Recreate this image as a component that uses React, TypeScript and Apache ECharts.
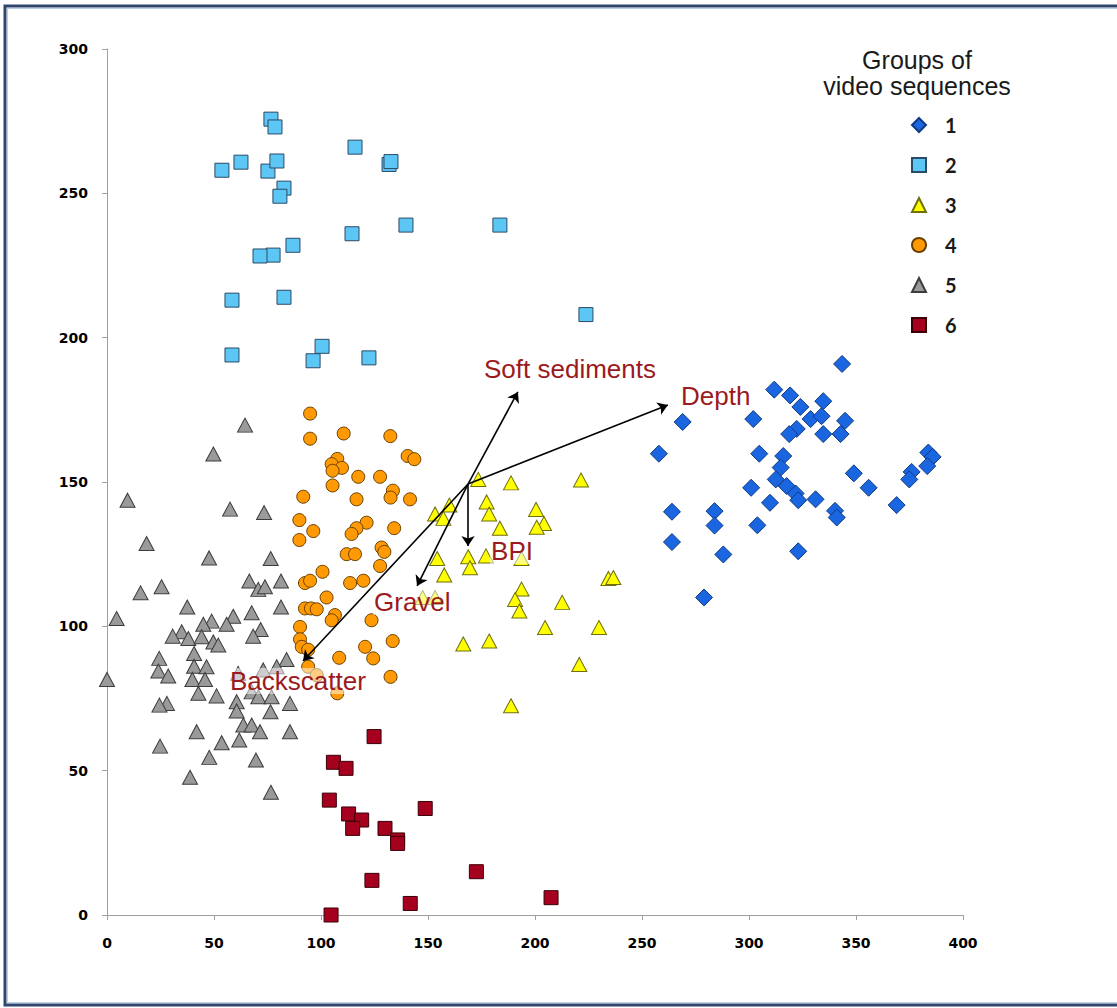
import React, { useEffect, useRef } from "react";
import * as echarts from "echarts";

const groupNames = ["1", "2", "3", "4", "5", "6"];

const group1: number[][] = [
  [343.5, 190.9], [311.8, 182], [319.2, 180], [324, 176], [334.7, 178], [328.8, 171.8], [333.9, 172.8],
  [344.9, 171.2], [322.3, 168.4], [318.8, 166.6], [334.7, 166.6], [342.8, 166.6], [302, 171.8], [269, 170.8],
  [257.9, 159.8], [304.8, 159.8], [316, 159], [314.8, 155], [312.5, 150.9], [317.6, 148.6], [321.8, 146],
  [323, 143.7], [331.1, 144], [301, 148], [309.8, 142.8], [340.2, 140], [341, 137.7], [349, 153], [355.9, 148],
  [376, 153.5], [374.9, 150.9], [383.8, 160.2], [385.8, 158.7], [383.3, 155.5], [369, 142], [264, 139.7],
  [283.9, 139.9], [283.9, 134.9], [303.9, 135], [264, 129.2], [288, 124.9], [323, 126], [279, 110],
];

const group2: number[][] = [
  [76.6, 275.7], [78.5, 273], [53.7, 258], [62.6, 260.8], [75.2, 257.7], [79.4, 261.2], [82.7, 251.8],
  [80.8, 249], [86.9, 232], [77.6, 228.6], [71.5, 228.3], [82.7, 214], [58.4, 213], [58.4, 194],
  [100.5, 197], [96.3, 192], [115.9, 266], [131.8, 260], [132.7, 261], [114.5, 236], [139.7, 239],
  [183.6, 239], [223.8, 208], [122.4, 193],
];

const group3: number[][] = [
  [173.5, 150.9], [188.8, 149.7], [221.5, 150.7], [160, 142], [153.3, 138.9], [157.2, 137.4], [177.4, 143.1],
  [178.6, 138.9], [183.6, 134], [200.5, 140.5], [204.2, 135.6], [200.8, 134.3], [154.3, 123.5], [157.6, 117.8],
  [168.8, 124.1], [169.6, 120.3], [177.1, 124.4], [193.7, 123.5], [234.3, 116.6], [236.6, 116.9], [193.7, 112.9],
  [190.7, 109.3], [192.7, 105.3], [212.7, 108.3], [147.5, 110], [153.3, 110], [204.7, 99.6], [229.9, 99.6],
  [166.5, 93.9], [178.6, 94.9], [220.7, 86.8], [188.8, 72.5],
];

const group4: number[][] = [
  [94.9, 173.7], [94.9, 165], [110.6, 166.8], [132.4, 165.9], [140.5, 159], [143.6, 157.9], [107.6, 158],
  [105, 156.2], [109.8, 154.9], [105.4, 153.9], [117.4, 151.8], [127.6, 151.8], [105.4, 148.8], [133.6, 147],
  [132.5, 144.6], [141.6, 144], [116.6, 144], [91.7, 144.9], [89.9, 136.8], [96.4, 133], [89.9, 129.9],
  [121.3, 135.9], [116.6, 134], [114.3, 132], [134.2, 134], [112, 125], [115.9, 125], [128.3, 127.3],
  [129.6, 125.8], [127.6, 120.9], [100.7, 118.9], [92.5, 115], [94.9, 115.8], [113.6, 115], [119.8, 115.8],
  [102.6, 110], [92.5, 106.2], [95.3, 106.2], [98, 105.9], [106.5, 103.9], [105, 102.1], [90.2, 99.8],
  [123.6, 102.1], [90.2, 95.5], [91, 92.9], [120.6, 92.9], [133.5, 94.9], [108.5, 89.1], [124.4, 88.9],
  [94, 91.9], [94, 86], [98, 83.1], [107.6, 76.8], [132.5, 82.5],
];

const group5: number[][] = [
  [64.5, 169.7], [49.7, 159.7], [9.6, 143.7], [57.5, 140.6], [73.4, 139.4], [18.5, 128.7], [47.7, 123.7],
  [76.5, 123.5], [66.5, 115.7], [70.7, 112.8], [73.8, 113.7], [81.3, 115.7], [15.7, 111.6], [25.5, 113.7],
  [37.5, 106.7], [81.3, 106.7], [4.5, 102.7], [67.6, 104.7], [59, 103.5], [55.9, 100.7], [48.9, 101.8],
  [45, 100.7], [34.9, 98.1], [30.7, 96.6], [38, 95.8], [44.2, 96.4], [49.7, 94.6], [52, 93.5], [71.8, 98.9],
  [68.3, 96.6], [40.7, 90.6], [24.4, 88.9], [24, 84.5], [28.6, 82.8], [40.7, 86.2], [46.5, 86], [39.9, 81.6],
  [45.8, 81.6], [0, 81.6], [83.9, 88.5], [79.3, 86], [73, 84.9], [61.3, 83.7], [42.7, 76.8], [51.2, 75.9],
  [60.6, 73.9], [28, 73.3], [24.5, 72.7], [85.5, 73.3], [67.6, 77.3], [70.7, 75.6], [76.9, 75.6], [60.6, 70.7],
  [63.7, 65.8], [67.6, 65.8], [71.5, 63.5], [76.4, 70.4], [85.5, 63.5], [61.8, 60.6], [53.6, 59.7], [41.9, 63.5],
  [24.8, 58.5], [47.8, 54.6], [69.6, 53.7], [38.8, 47.7], [76.6, 42.5],
];

const group6: number[][] = [
  [124.8, 61.8], [105.8, 52.9], [111.7, 50.8], [103.9, 39.8], [148.7, 36.9], [112.9, 35], [119, 32.9],
  [114.8, 30], [129.9, 30], [135.8, 26], [135.8, 24.8], [172.6, 15], [123.8, 12], [141.7, 4], [207.5, 6],
  [104.7, 0],
];

const arrowOrigin = [168.7, 149.3];
const arrowTips: number[][] = [
  [192, 181.2],
  [262.1, 176.7],
  [168.7, 127.8],
  [144.9, 114],
  [91.6, 88],
];

const vectorLabels: (string | number)[][] = [
  [175.7, 189.1, "Soft sediments"],
  [267.8, 179.8, "Depth"],
  [179, 126.1, "BPI"],
  [124.3, 108.4, "Gravel"],
  [57, 81.1, "Backscatter"],
];

const titleLines = ["Groups of", "video sequences"];

const xTicks = { min: 0, max: 400, interval: 50 };
const yTicks = { min: 0, max: 300, interval: 50 };

const styles = [
  { symbol: "diamond", size: 17, color: "#1a66e0", border: "#123a80" },
  { symbol: "rect", size: 14, color: "#5cc6f5", border: "#2c4a66" },
  { symbol: "triangle", size: [15, 14], color: "#ffff00", border: "#6f6f10" },
  { symbol: "circle", size: 13, color: "#ff9a05", border: "#6a4000" },
  { symbol: "triangle", size: [15, 14], color: "#9a9a9a", border: "#3c3c3c" },
  { symbol: "rect", size: 14, color: "#a5001e", border: "#3a0008" },
];

export default function App() {
  const ref = useRef<HTMLDivElement>(null);
  useEffect(() => {
    document.body.style.margin = "0";
    if (!ref.current) return;
    const chart = echarts.init(ref.current, null, { renderer: "svg" });
    const groups = [group1, group2, group3, group4, group5, group6];
    const scatterSeries = groups.map((g, i) => ({
      name: groupNames[i],
      type: "scatter",
      data: g,
      symbol: styles[i].symbol,
      symbolSize: styles[i].size,
      itemStyle: { color: styles[i].color, borderColor: styles[i].border, borderWidth: 1, opacity: 1 },
      z: 2,
    }));
    const labelFont = "'Liberation Sans', Arial, sans-serif";
    const axisFont = { color: "#000", fontWeight: "bold", fontSize: 14, fontFamily: "'DejaVu Sans', sans-serif" };
    chart.setOption({
      animation: false,
      backgroundColor: "#ffffff",
      grid: { left: 107, right: 154, top: 49, bottom: 93, containLabel: false },
      xAxis: {
        type: "value",
        min: xTicks.min,
        max: xTicks.max,
        interval: xTicks.interval,
        splitLine: { show: false },
        axisLine: { show: true, lineStyle: { color: "#a0a0a0", width: 1 } },
        axisTick: { show: true, length: 5, lineStyle: { color: "#a0a0a0" } },
        axisLabel: { margin: 21, ...axisFont },
      },
      yAxis: {
        type: "value",
        min: yTicks.min,
        max: yTicks.max,
        interval: yTicks.interval,
        splitLine: { show: false },
        axisLine: { show: true, lineStyle: { color: "#a0a0a0", width: 1 } },
        axisTick: { show: true, length: 5, lineStyle: { color: "#a0a0a0" } },
        axisLabel: { margin: 19, ...axisFont },
      },
      legend: {
        data: groupNames.map((n, i) => ({ name: n, icon: styles[i].symbol })),
        orient: "vertical",
        left: 906,
        top: 110,
        itemWidth: 14,
        itemHeight: 14,
        itemGap: 20,
        selectedMode: false,
        textStyle: {
          fontSize: 20,
          fontWeight: "bold",
          color: "#1a1a1a",
          fontFamily: "Lato, sans-serif",
          padding: [0, 0, 0, 14],
        },
      },
      graphic: [
        {
          type: "rect",
          shape: { x: 5, y: 6, width: 1130, height: 999 },
          style: { fill: "none", stroke: "#30466f", lineWidth: 3 },
          silent: true,
          z: 100,
        },
        {
          type: "rect",
          shape: { x: 7.5, y: 8.5, width: 1130, height: 994 },
          style: { fill: "none", stroke: "#b9cde6", lineWidth: 1 },
          silent: true,
          z: 100,
        },
        ...titleLines.map((t, i) => ({
          type: "text",
          x: 917,
          y: 60 + i * 26,
          style: {
            text: t,
            textAlign: "center",
            textVerticalAlign: "middle",
            fill: "#1a1a1a",
            font: "25px 'Liberation Sans', Arial, sans-serif",
          },
        })),
      ],
      series: [
        ...scatterSeries,
        {
          name: "vectors",
          type: "scatter",
          data: [],
          z: 5,
          markLine: {
            silent: true,
            symbol: ["none", "arrow"],
            symbolSize: 10,
            label: { show: false },
            lineStyle: { color: "#000", width: 1.6, type: "solid", opacity: 1 },
            emphasis: { disabled: true },
            data: arrowTips.map((t) => [{ coord: arrowOrigin }, { coord: t }]),
          },
        },
        {
          name: "vectorLabels",
          type: "scatter",
          data: vectorLabels,
          symbolSize: 0,
          z: 6,
          itemStyle: { opacity: 1 },
          label: {
            show: true,
            position: "right",
            distance: 0,
            formatter: (p: any) => p.value[2],
            color: "#9b1a20",
            fontSize: 26,
            fontFamily: labelFont,
            backgroundColor: "rgba(255,255,255,0.5)",
            padding: [0, 1],
          },
        },
      ],
    });
    return () => chart.dispose();
  }, []);
  return <div ref={ref} style={{ width: 1117, height: 1008 }} />;
}
